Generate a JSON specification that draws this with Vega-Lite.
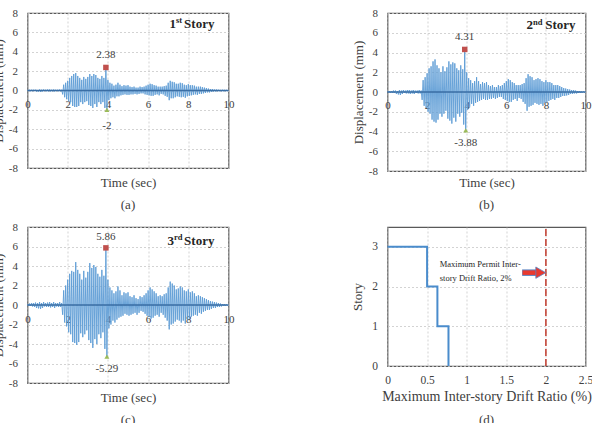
{
"$schema": "https://vega.github.io/schema/vega-lite/v6.json",
"background": "white",
"autosize": {"type": "pad"},
"padding": {"left": -8.5, "top": 6, "right": 0, "bottom": 0},
"config": {
  "font": "Liberation Serif",
  "locale": {"number": {"decimal": ".", "thousands": ",", "grouping": [3], "currency": ["$", ""], "minus": "-"}},
  "view": {"stroke": "#595959", "strokeWidth": 1.2},
  "axis": {"domain": false, "ticks": false, "grid": true, "gridColor": "#c8c8c8", "gridDash": [2, 2], "gridWidth": 0.8, "labelFont": "Liberation Serif", "labelFontSize": 11, "labelColor": "#404040", "titleFont": "Liberation Serif", "titleFontSize": 13, "titleFontWeight": "normal", "titleColor": "#404040", "labelFlush": false, "labelOverlap": false},
  "title": {"font": "Liberation Serif", "fontSize": 13, "fontWeight": "normal", "color": "#404040", "orient": "bottom", "anchor": "middle", "offset": 10},
  "text": {"font": "Liberation Serif"}
},
"datasets": {
"s1": [
{"t":0,"d":0.03},{"t":0.05,"d":-0.03},{"t":0.1,"d":0.05},{"t":0.15,"d":-0.05},{"t":0.2,"d":0.05},{"t":0.25,"d":-0.05},{"t":0.3,"d":0.08},{"t":0.35,"d":-0.05},{"t":0.4,"d":0.08},{"t":0.45,"d":-0.1},{"t":0.5,"d":0.05},{"t":0.55,"d":-0.12},{"t":0.6,"d":0.1},{"t":0.65,"d":-0.15},{"t":0.7,"d":0.08},{"t":0.75,"d":-0.1},{"t":0.8,"d":0.1},{"t":0.85,"d":-0.05},{"t":0.9,"d":0.08},{"t":0.95,"d":-0.08},
{"t":1,"d":0.1},{"t":1.05,"d":-0.08},{"t":1.1,"d":0.1},{"t":1.15,"d":-0.1},{"t":1.2,"d":0.08},{"t":1.25,"d":-0.08},{"t":1.3,"d":0.1},{"t":1.35,"d":-0.1},{"t":1.4,"d":0.08},{"t":1.45,"d":-0.05},{"t":1.5,"d":0.08},{"t":1.55,"d":-0.08},{"t":1.6,"d":0.1},{"t":1.65,"d":-0.08},{"t":1.7,"d":0.08},{"t":1.75,"d":-0.4},{"t":1.8,"d":0.6},{"t":1.85,"d":-0.7},{"t":1.9,"d":0.8},{"t":1.95,"d":-0.9},
{"t":2,"d":1.0},{"t":2.05,"d":-1.1},{"t":2.1,"d":1.3},{"t":2.15,"d":-1.2},{"t":2.2,"d":1.5},{"t":2.25,"d":-1.6},{"t":2.3,"d":1.7},{"t":2.35,"d":-1.7},{"t":2.4,"d":1.8},{"t":2.45,"d":-1.7},{"t":2.5,"d":1.5},{"t":2.55,"d":-1.6},{"t":2.6,"d":1.3},{"t":2.65,"d":-1.2},{"t":2.7,"d":1.1},{"t":2.75,"d":-1.4},{"t":2.8,"d":1.4},{"t":2.85,"d":-1.2},{"t":2.9,"d":1.2},{"t":2.95,"d":-1.1},
{"t":3,"d":1.4},{"t":3.05,"d":-1.5},{"t":3.1,"d":1.7},{"t":3.15,"d":-1.6},{"t":3.2,"d":1.5},{"t":3.25,"d":-1.8},{"t":3.3,"d":1.7},{"t":3.35,"d":-1.4},{"t":3.4,"d":1.6},{"t":3.45,"d":-1.7},{"t":3.5,"d":1.3},{"t":3.55,"d":-1.2},{"t":3.6,"d":1.2},{"t":3.65,"d":-1.4},{"t":3.7,"d":1.5},{"t":3.75,"d":-1.2},{"t":3.8,"d":1.3},{"t":3.85,"d":-1.8},{"t":3.9,"d":2.38},{"t":3.95,"d":-2.0},
{"t":4,"d":1.1},{"t":4.05,"d":-1.0},{"t":4.1,"d":0.8},{"t":4.15,"d":-0.8},{"t":4.2,"d":0.7},{"t":4.25,"d":-0.7},{"t":4.3,"d":0.5},{"t":4.35,"d":-0.8},{"t":4.4,"d":0.6},{"t":4.45,"d":-0.6},{"t":4.5,"d":0.8},{"t":4.55,"d":-0.6},{"t":4.6,"d":0.6},{"t":4.65,"d":-0.5},{"t":4.7,"d":0.45},{"t":4.75,"d":-0.45},{"t":4.8,"d":0.55},{"t":4.85,"d":-0.4},{"t":4.9,"d":0.5},{"t":4.95,"d":-0.45},
{"t":5,"d":0.55},{"t":5.05,"d":-0.45},{"t":5.1,"d":0.4},{"t":5.15,"d":-0.4},{"t":5.2,"d":0.35},{"t":5.25,"d":-0.4},{"t":5.3,"d":0.4},{"t":5.35,"d":-0.35},{"t":5.4,"d":0.3},{"t":5.45,"d":-0.4},{"t":5.5,"d":0.3},{"t":5.55,"d":-0.35},{"t":5.6,"d":0.4},{"t":5.65,"d":-0.3},{"t":5.7,"d":0.35},{"t":5.75,"d":-0.3},{"t":5.8,"d":0.4},{"t":5.85,"d":-0.4},{"t":5.9,"d":0.5},{"t":5.95,"d":-0.45},
{"t":6,"d":0.6},{"t":6.05,"d":-0.5},{"t":6.1,"d":0.7},{"t":6.15,"d":-0.55},{"t":6.2,"d":0.65},{"t":6.25,"d":-0.55},{"t":6.3,"d":0.55},{"t":6.35,"d":-0.45},{"t":6.4,"d":0.5},{"t":6.45,"d":-0.4},{"t":6.5,"d":0.4},{"t":6.55,"d":-0.5},{"t":6.6,"d":0.4},{"t":6.65,"d":-0.35},{"t":6.7,"d":0.4},{"t":6.75,"d":-0.4},{"t":6.8,"d":0.45},{"t":6.85,"d":-0.55},{"t":6.9,"d":0.5},{"t":6.95,"d":-0.65},
{"t":7,"d":0.8},{"t":7.05,"d":-1.0},{"t":7.1,"d":1.0},{"t":7.15,"d":-0.8},{"t":7.2,"d":0.9},{"t":7.25,"d":-0.8},{"t":7.3,"d":0.85},{"t":7.35,"d":-0.7},{"t":7.4,"d":0.7},{"t":7.45,"d":-0.6},{"t":7.5,"d":0.7},{"t":7.55,"d":-0.65},{"t":7.6,"d":0.8},{"t":7.65,"d":-0.7},{"t":7.7,"d":0.75},{"t":7.75,"d":-0.65},{"t":7.8,"d":0.6},{"t":7.85,"d":-0.75},{"t":7.9,"d":0.55},{"t":7.95,"d":-0.6},
{"t":8,"d":0.65},{"t":8.05,"d":-0.55},{"t":8.1,"d":0.55},{"t":8.15,"d":-0.5},{"t":8.2,"d":0.55},{"t":8.25,"d":-0.45},{"t":8.3,"d":0.5},{"t":8.35,"d":-0.4},{"t":8.4,"d":0.4},{"t":8.45,"d":-0.45},{"t":8.5,"d":0.4},{"t":8.55,"d":-0.35},{"t":8.6,"d":0.4},{"t":8.65,"d":-0.35},{"t":8.7,"d":0.35},{"t":8.75,"d":-0.3},{"t":8.8,"d":0.3},{"t":8.85,"d":-0.25},{"t":8.9,"d":0.25},{"t":8.95,"d":-0.2},
{"t":9,"d":0.2},{"t":9.05,"d":-0.2},{"t":9.1,"d":0.15},{"t":9.15,"d":-0.15},{"t":9.2,"d":0.15},{"t":9.25,"d":-0.1},{"t":9.3,"d":0.1},{"t":9.35,"d":-0.1},{"t":9.4,"d":0.1},{"t":9.45,"d":-0.08},{"t":9.5,"d":0.08},{"t":9.55,"d":-0.08},{"t":9.6,"d":0.05},{"t":9.65,"d":-0.05},{"t":9.7,"d":0.05},{"t":9.75,"d":-0.05},{"t":9.8,"d":0.03},{"t":9.85,"d":-0.03},{"t":9.9,"d":0.03},{"t":9.95,"d":-0.03},{"t":10,"d":0}
],
"s2": [
{"t":0,"d":0.05},{"t":0.05,"d":-0.05},{"t":0.1,"d":0.1},{"t":0.15,"d":-0.1},{"t":0.2,"d":0.1},{"t":0.25,"d":-0.1},{"t":0.3,"d":0.15},{"t":0.35,"d":-0.1},{"t":0.4,"d":0.15},{"t":0.45,"d":-0.2},{"t":0.5,"d":0.1},{"t":0.55,"d":-0.25},{"t":0.6,"d":0.2},{"t":0.65,"d":-0.3},{"t":0.7,"d":0.15},{"t":0.75,"d":-0.2},{"t":0.8,"d":0.2},{"t":0.85,"d":-0.1},{"t":0.9,"d":0.15},{"t":0.95,"d":-0.15},
{"t":1,"d":0.2},{"t":1.05,"d":-0.15},{"t":1.1,"d":0.2},{"t":1.15,"d":-0.2},{"t":1.2,"d":0.15},{"t":1.25,"d":-0.15},{"t":1.3,"d":0.2},{"t":1.35,"d":-0.2},{"t":1.4,"d":0.15},{"t":1.45,"d":-0.1},{"t":1.5,"d":0.15},{"t":1.55,"d":-0.15},{"t":1.6,"d":0.2},{"t":1.65,"d":-0.15},{"t":1.7,"d":0.15},{"t":1.75,"d":-0.8},{"t":1.8,"d":1.2},{"t":1.85,"d":-1.4},{"t":1.9,"d":1.5},{"t":1.95,"d":-1.6},
{"t":2,"d":1.9},{"t":2.05,"d":-2.0},{"t":2.1,"d":2.4},{"t":2.15,"d":-2.2},{"t":2.2,"d":2.6},{"t":2.25,"d":-2.8},{"t":2.3,"d":3.1},{"t":2.35,"d":-3.0},{"t":2.4,"d":3.3},{"t":2.45,"d":-3.1},{"t":2.5,"d":2.7},{"t":2.55,"d":-2.8},{"t":2.6,"d":2.4},{"t":2.65,"d":-2.2},{"t":2.7,"d":2.0},{"t":2.75,"d":-2.5},{"t":2.8,"d":2.6},{"t":2.85,"d":-2.2},{"t":2.9,"d":2.1},{"t":2.95,"d":-1.9},
{"t":3,"d":2.5},{"t":3.05,"d":-2.7},{"t":3.1,"d":3.1},{"t":3.15,"d":-2.9},{"t":3.2,"d":2.8},{"t":3.25,"d":-3.2},{"t":3.3,"d":3.0},{"t":3.35,"d":-2.6},{"t":3.4,"d":2.9},{"t":3.45,"d":-3.0},{"t":3.5,"d":2.4},{"t":3.55,"d":-2.2},{"t":3.6,"d":2.2},{"t":3.65,"d":-2.5},{"t":3.7,"d":2.7},{"t":3.75,"d":-2.1},{"t":3.8,"d":2.3},{"t":3.85,"d":-3.3},{"t":3.9,"d":4.31},{"t":3.95,"d":-3.88},
{"t":4,"d":2.0},{"t":4.05,"d":-1.8},{"t":4.1,"d":1.4},{"t":4.15,"d":-1.5},{"t":4.2,"d":1.2},{"t":4.25,"d":-1.2},{"t":4.3,"d":0.9},{"t":4.35,"d":-1.4},{"t":4.4,"d":1.1},{"t":4.45,"d":-1.1},{"t":4.5,"d":1.5},{"t":4.55,"d":-1.0},{"t":4.6,"d":1.1},{"t":4.65,"d":-0.9},{"t":4.7,"d":0.8},{"t":4.75,"d":-0.8},{"t":4.8,"d":1.0},{"t":4.85,"d":-0.7},{"t":4.9,"d":0.9},{"t":4.95,"d":-0.8},
{"t":5,"d":1.0},{"t":5.05,"d":-0.8},{"t":5.1,"d":0.7},{"t":5.15,"d":-0.7},{"t":5.2,"d":0.6},{"t":5.25,"d":-0.7},{"t":5.3,"d":0.7},{"t":5.35,"d":-0.6},{"t":5.4,"d":0.5},{"t":5.45,"d":-0.7},{"t":5.5,"d":0.5},{"t":5.55,"d":-0.6},{"t":5.6,"d":0.7},{"t":5.65,"d":-0.5},{"t":5.7,"d":0.6},{"t":5.75,"d":-0.5},{"t":5.8,"d":0.7},{"t":5.85,"d":-0.7},{"t":5.9,"d":0.9},{"t":5.95,"d":-0.8},
{"t":6,"d":1.1},{"t":6.05,"d":-0.9},{"t":6.1,"d":1.3},{"t":6.15,"d":-1.0},{"t":6.2,"d":1.2},{"t":6.25,"d":-1.0},{"t":6.3,"d":1.0},{"t":6.35,"d":-0.8},{"t":6.4,"d":0.9},{"t":6.45,"d":-0.7},{"t":6.5,"d":0.7},{"t":6.55,"d":-0.9},{"t":6.6,"d":0.7},{"t":6.65,"d":-0.6},{"t":6.7,"d":0.7},{"t":6.75,"d":-0.7},{"t":6.8,"d":0.8},{"t":6.85,"d":-1.0},{"t":6.9,"d":0.9},{"t":6.95,"d":-1.2},
{"t":7,"d":1.4},{"t":7.05,"d":-1.9},{"t":7.1,"d":1.8},{"t":7.15,"d":-1.5},{"t":7.2,"d":1.6},{"t":7.25,"d":-1.4},{"t":7.3,"d":1.5},{"t":7.35,"d":-1.3},{"t":7.4,"d":1.2},{"t":7.45,"d":-1.1},{"t":7.5,"d":1.3},{"t":7.55,"d":-1.2},{"t":7.6,"d":1.4},{"t":7.65,"d":-1.3},{"t":7.7,"d":1.3},{"t":7.75,"d":-1.2},{"t":7.8,"d":1.1},{"t":7.85,"d":-1.4},{"t":7.9,"d":1.0},{"t":7.95,"d":-1.1},
{"t":8,"d":1.2},{"t":8.05,"d":-1.0},{"t":8.1,"d":1.0},{"t":8.15,"d":-0.9},{"t":8.2,"d":1.0},{"t":8.25,"d":-0.8},{"t":8.3,"d":0.9},{"t":8.35,"d":-0.7},{"t":8.4,"d":0.7},{"t":8.45,"d":-0.8},{"t":8.5,"d":0.7},{"t":8.55,"d":-0.6},{"t":8.6,"d":0.7},{"t":8.65,"d":-0.6},{"t":8.7,"d":0.6},{"t":8.75,"d":-0.5},{"t":8.8,"d":0.5},{"t":8.85,"d":-0.4},{"t":8.9,"d":0.4},{"t":8.95,"d":-0.4},
{"t":9,"d":0.35},{"t":9.05,"d":-0.35},{"t":9.1,"d":0.3},{"t":9.15,"d":-0.3},{"t":9.2,"d":0.25},{"t":9.25,"d":-0.2},{"t":9.3,"d":0.2},{"t":9.35,"d":-0.2},{"t":9.4,"d":0.2},{"t":9.45,"d":-0.15},{"t":9.5,"d":0.15},{"t":9.55,"d":-0.15},{"t":9.6,"d":0.1},{"t":9.65,"d":-0.1},{"t":9.7,"d":0.1},{"t":9.75,"d":-0.1},{"t":9.8,"d":0.05},{"t":9.85,"d":-0.05},{"t":9.9,"d":0.05},{"t":9.95,"d":-0.05},{"t":10,"d":0}
],
"s3": [
{"t":0,"d":0.1},{"t":0.05,"d":-0.1},{"t":0.1,"d":0.15},{"t":0.15,"d":-0.1},{"t":0.2,"d":0.2},{"t":0.25,"d":-0.15},{"t":0.3,"d":0.2},{"t":0.35,"d":-0.2},{"t":0.4,"d":0.25},{"t":0.45,"d":-0.3},{"t":0.5,"d":0.2},{"t":0.55,"d":-0.35},{"t":0.6,"d":0.3},{"t":0.65,"d":-0.4},{"t":0.7,"d":0.2},{"t":0.75,"d":-0.3},{"t":0.8,"d":0.3},{"t":0.85,"d":-0.15},{"t":0.9,"d":0.2},{"t":0.95,"d":-0.2},
{"t":1,"d":0.25},{"t":1.05,"d":-0.2},{"t":1.1,"d":0.3},{"t":1.15,"d":-0.25},{"t":1.2,"d":0.2},{"t":1.25,"d":-0.2},{"t":1.3,"d":0.3},{"t":1.35,"d":-0.3},{"t":1.4,"d":0.2},{"t":1.45,"d":-0.15},{"t":1.5,"d":0.2},{"t":1.55,"d":-0.2},{"t":1.6,"d":0.3},{"t":1.65,"d":-0.2},{"t":1.7,"d":0.2},{"t":1.75,"d":-1.0},{"t":1.8,"d":1.5},{"t":1.85,"d":-1.8},{"t":1.9,"d":2.0},{"t":1.95,"d":-2.2},
{"t":2,"d":2.6},{"t":2.05,"d":-2.8},{"t":2.1,"d":3.2},{"t":2.15,"d":-3.0},{"t":2.2,"d":3.5},{"t":2.25,"d":-3.8},{"t":2.3,"d":3.4},{"t":2.35,"d":-3.9},{"t":2.4,"d":4.4},{"t":2.45,"d":-4.1},{"t":2.5,"d":3.6},{"t":2.55,"d":-3.8},{"t":2.6,"d":3.2},{"t":2.65,"d":-2.9},{"t":2.7,"d":2.6},{"t":2.75,"d":-3.3},{"t":2.8,"d":3.5},{"t":2.85,"d":-3.0},{"t":2.9,"d":2.8},{"t":2.95,"d":-2.6},
{"t":3,"d":3.4},{"t":3.05,"d":-3.6},{"t":3.1,"d":4.3},{"t":3.15,"d":-3.9},{"t":3.2,"d":3.8},{"t":3.25,"d":-4.4},{"t":3.3,"d":4.1},{"t":3.35,"d":-3.5},{"t":3.4,"d":3.9},{"t":3.45,"d":-4.0},{"t":3.5,"d":3.2},{"t":3.55,"d":-3.0},{"t":3.6,"d":2.9},{"t":3.65,"d":-3.4},{"t":3.7,"d":3.6},{"t":3.75,"d":-2.8},{"t":3.8,"d":3.0},{"t":3.85,"d":-4.5},{"t":3.9,"d":5.86},{"t":3.95,"d":-5.29},
{"t":4,"d":2.6},{"t":4.05,"d":-2.4},{"t":4.1,"d":1.8},{"t":4.15,"d":-2.0},{"t":4.2,"d":1.5},{"t":4.25,"d":-1.6},{"t":4.3,"d":1.2},{"t":4.35,"d":-1.8},{"t":4.4,"d":1.4},{"t":4.45,"d":-1.5},{"t":4.5,"d":1.9},{"t":4.55,"d":-1.3},{"t":4.6,"d":1.5},{"t":4.65,"d":-1.2},{"t":4.7,"d":1.0},{"t":4.75,"d":-1.1},{"t":4.8,"d":1.3},{"t":4.85,"d":-0.9},{"t":4.9,"d":1.2},{"t":4.95,"d":-1.0},
{"t":5,"d":1.3},{"t":5.05,"d":-1.1},{"t":5.1,"d":0.9},{"t":5.15,"d":-1.0},{"t":5.2,"d":0.8},{"t":5.25,"d":-0.9},{"t":5.3,"d":1.0},{"t":5.35,"d":-0.8},{"t":5.4,"d":0.7},{"t":5.45,"d":-1.0},{"t":5.5,"d":0.6},{"t":5.55,"d":-0.8},{"t":5.6,"d":0.9},{"t":5.65,"d":-0.6},{"t":5.7,"d":0.8},{"t":5.75,"d":-0.7},{"t":5.8,"d":1.0},{"t":5.85,"d":-0.9},{"t":5.9,"d":1.2},{"t":5.95,"d":-1.1},
{"t":6,"d":1.5},{"t":6.05,"d":-1.2},{"t":6.1,"d":1.8},{"t":6.15,"d":-1.4},{"t":6.2,"d":1.6},{"t":6.25,"d":-1.3},{"t":6.3,"d":1.4},{"t":6.35,"d":-1.1},{"t":6.4,"d":1.2},{"t":6.45,"d":-1.0},{"t":6.5,"d":0.9},{"t":6.55,"d":-1.2},{"t":6.6,"d":1.0},{"t":6.65,"d":-0.8},{"t":6.7,"d":0.9},{"t":6.75,"d":-1.0},{"t":6.8,"d":1.1},{"t":6.85,"d":-1.3},{"t":6.9,"d":1.2},{"t":6.95,"d":-1.6},
{"t":7,"d":1.8},{"t":7.05,"d":-2.5},{"t":7.1,"d":2.4},{"t":7.15,"d":-2.0},{"t":7.2,"d":2.2},{"t":7.25,"d":-1.9},{"t":7.3,"d":2.0},{"t":7.35,"d":-1.7},{"t":7.4,"d":1.6},{"t":7.45,"d":-1.5},{"t":7.5,"d":1.7},{"t":7.55,"d":-1.6},{"t":7.6,"d":1.9},{"t":7.65,"d":-1.8},{"t":7.7,"d":1.8},{"t":7.75,"d":-1.6},{"t":7.8,"d":1.5},{"t":7.85,"d":-1.9},{"t":7.9,"d":1.4},{"t":7.95,"d":-1.5},
{"t":8,"d":1.6},{"t":8.05,"d":-1.4},{"t":8.1,"d":1.3},{"t":8.15,"d":-1.2},{"t":8.2,"d":1.4},{"t":8.25,"d":-1.1},{"t":8.3,"d":1.2},{"t":8.35,"d":-1.0},{"t":8.4,"d":0.9},{"t":8.45,"d":-1.1},{"t":8.5,"d":1.0},{"t":8.55,"d":-0.8},{"t":8.6,"d":0.9},{"t":8.65,"d":-0.9},{"t":8.7,"d":0.8},{"t":8.75,"d":-0.7},{"t":8.8,"d":0.7},{"t":8.85,"d":-0.6},{"t":8.9,"d":0.6},{"t":8.95,"d":-0.5},
{"t":9,"d":0.5},{"t":9.05,"d":-0.5},{"t":9.1,"d":0.4},{"t":9.15,"d":-0.4},{"t":9.2,"d":0.35},{"t":9.25,"d":-0.3},{"t":9.3,"d":0.3},{"t":9.35,"d":-0.3},{"t":9.4,"d":0.25},{"t":9.45,"d":-0.2},{"t":9.5,"d":0.2},{"t":9.55,"d":-0.2},{"t":9.6,"d":0.15},{"t":9.65,"d":-0.15},{"t":9.7,"d":0.1},{"t":9.75,"d":-0.1},{"t":9.8,"d":0.1},{"t":9.85,"d":-0.1},{"t":9.9,"d":0.05},{"t":9.95,"d":-0.05},{"t":10,"d":0}
]
},
"columns": 2,
"spacing": {"row": 56, "column": 159},
"bounds": "flush",
"align": "all",
"concat": [
{
  "width": 201, "height": 155,
  "title": {"text": "(a)"},
  "encoding": {
    "x": {"field": "t", "type": "quantitative", "scale": {"domain": [0, 10], "nice": false}, "axis": {"values": [0, 2, 4, 6, 8, 10], "labelOverlap": false, "labelPadding": -70, "title": "Time (sec)", "titlePadding": 8}},
    "y": {"field": "d", "type": "quantitative", "scale": {"domain": [-8, 8], "nice": false}, "axis": {"values": [-8, -6, -4, -2, 0, 2, 4, 6, 8], "labelOverlap": false, "title": "Displacement (mm)", "labelPadding": 10, "titlePadding": 3}}
  },
  "layer": [
    {"data": {"name": "s1"}, "mark": {"type": "line", "color": "#5b9bd5", "strokeWidth": 0.9}},
    {"data": {"values": [{"t": 0, "t2": 10, "d": 0}]}, "mark": {"type": "rule", "color": "#3a6ea5", "strokeWidth": 1.3}, "encoding": {"x2": {"field": "t2"}}},
    {"data": {"values": [{"t": 3.9, "d": 2.38}]}, "mark": {"type": "point", "shape": "square", "filled": true, "color": "#c0504d", "size": 30, "opacity": 1}},
    {"data": {"values": [{"t": 3.9, "d": 2.38}]}, "mark": {"type": "text", "fontSize": 11, "color": "#404040", "dy": -12}, "encoding": {"text": {"field": "d", "type": "quantitative"}}},
    {"data": {"values": [{"t": 3.95, "d": -2}]}, "mark": {"type": "point", "shape": "triangle-up", "filled": true, "color": "#9bbb59", "size": 25, "opacity": 1}},
    {"data": {"values": [{"t": 3.95, "d": -2}]}, "mark": {"type": "text", "fontSize": 11, "color": "#404040", "dy": 16}, "encoding": {"text": {"field": "d", "type": "quantitative"}}},
    {"data": {"values": [{"t": 9.3, "d": 6.5, "num": "1", "sup": "st", "word": "Story"}]}, "mark": {"type": "text", "align": "right", "baseline": "alphabetic", "fontSize": 13, "fontWeight": "bold", "color": "#262626"}, "encoding": {"text": {"field": "word"}}},
    {"data": {"values": [{"t": 9.3, "d": 6.5, "num": "1", "sup": "st", "word": "Story"}]}, "mark": {"type": "text", "align": "left", "baseline": "alphabetic", "fontSize": 13, "fontWeight": "bold", "color": "#262626", "dx": -45}, "encoding": {"text": {"field": "num"}}},
    {"data": {"values": [{"t": 9.3, "d": 6.5, "num": "1", "sup": "st", "word": "Story"}]}, "mark": {"type": "text", "align": "left", "baseline": "alphabetic", "fontSize": 8.5, "fontWeight": "bold", "color": "#262626", "dx": -38.5, "dy": -4.5}, "encoding": {"text": {"field": "sup"}}}
  ]
},
{
  "width": 198, "height": 158,
  "title": {"text": "(b)"},
  "encoding": {
    "x": {"field": "t", "type": "quantitative", "scale": {"domain": [0, 10], "nice": false}, "axis": {"values": [0, 2, 4, 6, 8, 10], "labelOverlap": false, "labelPadding": -72, "title": "Time (sec)", "titlePadding": 5}},
    "y": {"field": "d", "type": "quantitative", "scale": {"domain": [-8, 8], "nice": false}, "axis": {"values": [-8, -6, -4, -2, 0, 2, 4, 6, 8], "labelOverlap": false, "title": "Displacement (mm)", "labelPadding": 10, "titlePadding": 3}}
  },
  "layer": [
    {"data": {"name": "s2"}, "mark": {"type": "line", "color": "#5b9bd5", "strokeWidth": 0.9}},
    {"data": {"values": [{"t": 0, "t2": 10, "d": 0}]}, "mark": {"type": "rule", "color": "#3a6ea5", "strokeWidth": 1.3}, "encoding": {"x2": {"field": "t2"}}},
    {"data": {"values": [{"t": 3.9, "d": 4.31}]}, "mark": {"type": "point", "shape": "square", "filled": true, "color": "#c0504d", "size": 30, "opacity": 1}},
    {"data": {"values": [{"t": 3.9, "d": 4.31}]}, "mark": {"type": "text", "fontSize": 11, "color": "#404040", "dy": -12}, "encoding": {"text": {"field": "d", "type": "quantitative"}}},
    {"data": {"values": [{"t": 3.95, "d": -3.88}]}, "mark": {"type": "point", "shape": "triangle-up", "filled": true, "color": "#9bbb59", "size": 25, "opacity": 1}},
    {"data": {"values": [{"t": 3.95, "d": -3.88}]}, "mark": {"type": "text", "fontSize": 11, "color": "#404040", "dy": 13}, "encoding": {"text": {"field": "d", "type": "quantitative"}}},
    {"data": {"values": [{"t": 9.5, "d": 6.35, "num": "2", "sup": "nd", "word": "Story"}]}, "mark": {"type": "text", "align": "right", "baseline": "alphabetic", "fontSize": 13, "fontWeight": "bold", "color": "#262626"}, "encoding": {"text": {"field": "word"}}},
    {"data": {"values": [{"t": 9.5, "d": 6.35, "num": "2", "sup": "nd", "word": "Story"}]}, "mark": {"type": "text", "align": "left", "baseline": "alphabetic", "fontSize": 13, "fontWeight": "bold", "color": "#262626", "dx": -49}, "encoding": {"text": {"field": "num"}}},
    {"data": {"values": [{"t": 9.5, "d": 6.35, "num": "2", "sup": "nd", "word": "Story"}]}, "mark": {"type": "text", "align": "left", "baseline": "alphabetic", "fontSize": 8.5, "fontWeight": "bold", "color": "#262626", "dx": -42.5, "dy": -4.5}, "encoding": {"text": {"field": "sup"}}}
  ]
},
{
  "width": 201, "height": 156,
  "title": {"text": "(c)"},
  "encoding": {
    "x": {"field": "t", "type": "quantitative", "scale": {"domain": [0, 10], "nice": false}, "axis": {"values": [0, 2, 4, 6, 8, 10], "labelOverlap": false, "labelPadding": -70, "title": "Time (sec)", "titlePadding": 8}},
    "y": {"field": "d", "type": "quantitative", "scale": {"domain": [-8, 8], "nice": false}, "axis": {"values": [-8, -6, -4, -2, 0, 2, 4, 6, 8], "labelOverlap": false, "title": "Displacement (mm)", "labelPadding": 10, "titlePadding": 3}}
  },
  "layer": [
    {"data": {"name": "s3"}, "mark": {"type": "line", "color": "#5b9bd5", "strokeWidth": 0.9}},
    {"data": {"values": [{"t": 0, "t2": 10, "d": 0}]}, "mark": {"type": "rule", "color": "#3a6ea5", "strokeWidth": 1.3}, "encoding": {"x2": {"field": "t2"}}},
    {"data": {"values": [{"t": 3.9, "d": 5.86}]}, "mark": {"type": "point", "shape": "square", "filled": true, "color": "#c0504d", "size": 30, "opacity": 1}},
    {"data": {"values": [{"t": 3.9, "d": 5.86}]}, "mark": {"type": "text", "fontSize": 11, "color": "#404040", "dy": -11}, "encoding": {"text": {"field": "d", "type": "quantitative"}}},
    {"data": {"values": [{"t": 3.95, "d": -5.29}]}, "mark": {"type": "point", "shape": "triangle-up", "filled": true, "color": "#9bbb59", "size": 25, "opacity": 1}},
    {"data": {"values": [{"t": 3.95, "d": -5.29}]}, "mark": {"type": "text", "fontSize": 11, "color": "#404040", "dy": 12}, "encoding": {"text": {"field": "d", "type": "quantitative"}}},
    {"data": {"values": [{"t": 9.3, "d": 6.2, "num": "3", "sup": "rd", "word": "Story"}]}, "mark": {"type": "text", "align": "right", "baseline": "alphabetic", "fontSize": 13, "fontWeight": "bold", "color": "#262626"}, "encoding": {"text": {"field": "word"}}},
    {"data": {"values": [{"t": 9.3, "d": 6.2, "num": "3", "sup": "rd", "word": "Story"}]}, "mark": {"type": "text", "align": "left", "baseline": "alphabetic", "fontSize": 13, "fontWeight": "bold", "color": "#262626", "dx": -47}, "encoding": {"text": {"field": "num"}}},
    {"data": {"values": [{"t": 9.3, "d": 6.2, "num": "3", "sup": "rd", "word": "Story"}]}, "mark": {"type": "text", "align": "left", "baseline": "alphabetic", "fontSize": 8.5, "fontWeight": "bold", "color": "#262626", "dx": -40.5, "dy": -4.5}, "encoding": {"text": {"field": "sup"}}}
  ]
},
{
  "width": 198, "height": 139,
  "title": {"text": "(d)"},
  "encoding": {
    "x": {"field": "x", "type": "quantitative", "scale": {"domain": [0, 2.5], "nice": false}, "axis": {"values": [0, 0.5, 1, 1.5, 2, 2.5], "labelOverlap": false, "format": "~g", "labelFontSize": 11.5, "labelPadding": 8, "title": "Maximum Inter-story Drift Ratio (%)", "titleFontSize": 14, "titlePadding": 4}},
    "y": {"field": "y", "type": "quantitative", "scale": {"domain": [0, 3.5], "nice": false}, "axis": {"values": [0, 1, 2, 3], "labelOverlap": false, "format": "~g", "labelFontSize": 11.5, "labelPadding": 10, "title": "Story", "titlePadding": 7}}
  },
  "layer": [
    {"data": {"values": [{"i": 0, "x": 0, "y": 3}, {"i": 1, "x": 0.5, "y": 3}, {"i": 2, "x": 0.5, "y": 2}, {"i": 3, "x": 0.63, "y": 2}, {"i": 4, "x": 0.63, "y": 1}, {"i": 5, "x": 0.77, "y": 1}, {"i": 6, "x": 0.77, "y": 0}]},
     "mark": {"type": "line", "color": "#4a8ccc", "strokeWidth": 2},
     "encoding": {"order": {"field": "i", "type": "quantitative"}}},
    {"data": {"values": [{"x": 2, "y": 0, "y2": 3.5}]}, "mark": {"type": "rule", "color": "#c0392b", "strokeWidth": 1.5, "strokeDash": [7, 3]}, "encoding": {"y2": {"field": "y2"}}},
    {"data": {"values": [{"x": 1.7, "x2": 1.9, "y": 2.35}]}, "mark": {"type": "rule", "color": "#5a82c0", "strokeWidth": 6.5, "strokeCap": "butt"}, "encoding": {"x2": {"field": "x2"}}},
    {"data": {"values": [{"x": 1.705, "x2": 1.9, "y": 2.35}]}, "mark": {"type": "rule", "color": "#e8392f", "strokeWidth": 4.5, "strokeCap": "butt"}, "encoding": {"x2": {"field": "x2"}}},
    {"data": {"values": [{"x": 1.935, "y": 2.35}]}, "mark": {"type": "point", "shape": "triangle-right", "filled": true, "fill": "#e8392f", "stroke": "#5a82c0", "strokeWidth": 0.8, "size": 130, "opacity": 1}},
    {"data": {"values": [{"x": 0.66, "y": 2.57, "txt": "Maximum Permit Inter-"}, {"x": 0.66, "y": 2.22, "txt": "story Drift Ratio, 2%"}]}, "mark": {"type": "text", "align": "left", "baseline": "middle", "fontSize": 8.5, "color": "#262626"}, "encoding": {"text": {"field": "txt"}}}
  ]
}
]
}
